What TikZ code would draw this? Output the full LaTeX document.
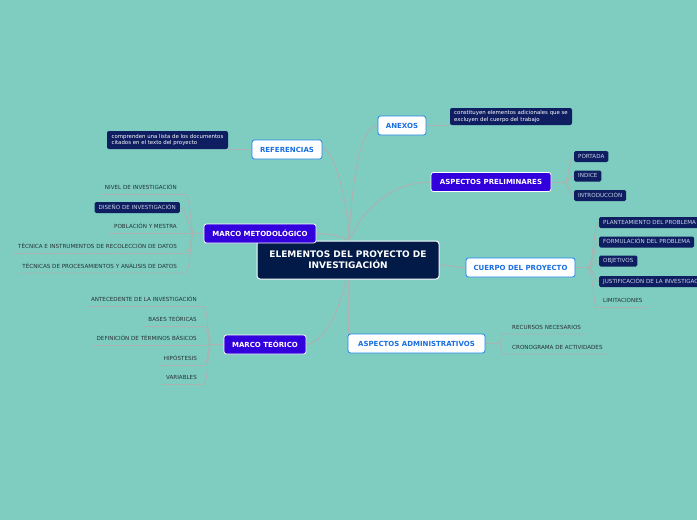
\documentclass[tikz,border=0pt]{standalone}
\usepackage{fontspec}
\setmainfont{DejaVu Sans}
\usetikzlibrary{calc}
\definecolor{bgc}{RGB}{126,205,192}
\definecolor{navyc}{RGB}{2,26,72}
\definecolor{leafc}{RGB}{14,30,96}
\definecolor{purc}{RGB}{50,0,220}
\definecolor{bluet}{RGB}{25,110,225}
\definecolor{blueb}{RGB}{30,130,235}
\definecolor{linec}{RGB}{172,178,178}
\definecolor{leaft}{RGB}{200,210,235}
\definecolor{plaint}{RGB}{40,50,55}
\pgfdeclarelayer{bg}
\pgfsetlayers{bg,main}
\begin{document}
\begin{tikzpicture}[x=1pt,y=-1pt,
  conn/.style={draw=linec,line width=1pt},
  uline/.style={draw=linec,line width=0.8pt},
  central/.style={fill=navyc,draw=white,line width=1pt,rounded corners=3pt,text=white,
    font=\bfseries\fontsize{9}{11}\selectfont,align=center,minimum width=182pt,minimum height=38pt,inner sep=0pt},
  wbox/.style={fill=white,draw=blueb,line width=0.8pt,rounded corners=2.5pt,text=bluet,
    font=\bfseries\fontsize{7}{8}\selectfont,minimum height=19pt,inner sep=0pt},
  pbox/.style={fill=purc,draw=white,line width=0.8pt,rounded corners=2.5pt,text=white,
    font=\bfseries\fontsize{7}{8}\selectfont,minimum height=19pt,inner sep=0pt},
  leaf/.style={fill=leafc,rounded corners=1.5pt,text=leaft,font=\fontsize{5.6}{6}\selectfont,
    text height=4pt,text depth=1pt,inner xsep=4pt,inner ysep=3pt},
  plain/.style={text=plaint,font=\fontsize{5.6}{6}\selectfont,text height=4pt,text depth=1pt,inner sep=0pt},
  note/.style={fill=leafc,rounded corners=2pt,text=white,font=\fontsize{5.4}{6.2}\selectfont,
    align=left,inner xsep=4pt,inner ysep=1pt}
]
\useasboundingbox (0,0) rectangle (697,520);
\begin{pgfonlayer}{bg}
\fill[bgc] (0,0) rectangle (697,520);
\end{pgfonlayer}

% central
\node[central] (c) at (348,260) {ELEMENTOS DEL PROYECTO DE\\INVESTIGACIÓN};

% anexos
\node[wbox,minimum width=48pt] (an) at (402,125.5) {ANEXOS};
\node[note,minimum width=122pt,minimum height=17pt] (ann) at (511,116.5)
  {constituyen elementos adicionales que se\\excluyen del cuerpo del trabajo};

% referencias
\node[wbox,minimum width=70pt] (re) at (287,149.5) {REFERENCIAS};
\node[note,minimum width=121pt,minimum height=18pt] (ren) at (167.5,140)
  {comprenden una lista de los documentos\\citados en el texto del proyecto};

% aspectos preliminares
\node[pbox,minimum width=120pt] (ap) at (491,182) {ASPECTOS PRELIMINARES};
\node[leaf,anchor=west] (p1) at (574,156.5) {PORTADA};
\node[leaf,anchor=west] (p2) at (574,176) {INDICE};
\node[leaf,anchor=west] (p3) at (574,195.5) {INTRODUCCIÓN};

% marco metodologico
\node[pbox,minimum width=112pt] (mm) at (260,233.5) {MARCO METODOLÓGICO};
\node[plain,anchor=east] (m1) at (177,188) {NIVEL DE INVESTIGACIÓN};
\node[leaf,anchor=east] (m2) at (180,207.5) {DISEÑO DE INVESTIGACIÓN};
\node[plain,anchor=east] (m3) at (177,227) {POBLACIÓN Y MESTRA};
\node[plain,anchor=east] (m4) at (177,247) {TÉCNICA E INSTRUMENTOS DE RECOLECCIÓN DE DATOS};
\node[plain,anchor=east] (m5) at (177,266.5) {TÉCNICAS DE PROCESAMIENTOS Y ANÁLISIS DE DATOS};

% cuerpo del proyecto
\node[wbox,minimum width=109pt] (cu) at (520.5,267.5) {CUERPO DEL PROYECTO};
\node[leaf,anchor=west] (c1) at (599,222.5) {PLANTEAMIENTO DEL PROBLEMA};
\node[leaf,anchor=west] (c2) at (599,242) {FORMULACIÓN DEL PROBLEMA};
\node[leaf,anchor=west] (c3) at (599,261) {OBJETIVOS};
\node[leaf,anchor=west] (c4) at (599,281.5) {JUSTIFICACIÓN DE LA INVESTIGACIÓN};
\node[plain,anchor=west] (c5) at (603,301) {LIMITACIONES};

% marco teorico
\node[pbox,minimum width=82pt] (mt) at (265,344.5) {MARCO TEÓRICO};
\node[plain,anchor=east] (t1) at (197,300) {ANTECEDENTE DE LA INVESTIGACIÓN};
\node[plain,anchor=east] (t2) at (197,320) {BASES TEÓRICAS};
\node[plain,anchor=east] (t3) at (197,339) {DEFINICIÓN DE TÉRMINOS BÁSICOS};
\node[plain,anchor=east] (t4) at (197,359) {HIPÓSTESIS};
\node[plain,anchor=east] (t5) at (197,378) {VARIABLES};

% aspectos administrativos
\node[wbox,minimum width=137pt] (ad) at (416.5,343.5) {ASPECTOS ADMINISTRATIVOS};
\node[plain,anchor=west] (d1) at (512,328) {RECURSOS NECESARIOS};
\node[plain,anchor=west] (d2) at (512,348) {CRONOGRAMA DE ACTIVIDADES};

% junctions
\coordinate (jm) at (194,233.5);
\coordinate (jt) at (211,344.5);
\coordinate (jp) at (564,182);
\coordinate (jc) at (588,267.5);
\coordinate (jd) at (499,343.5);
\coordinate (ctop) at ($(c.north)+(1,0)$);

\begin{pgfonlayer}{bg}
% main connectors
\draw[conn] (ctop) .. controls (352,180) and (360,126) .. (an.west);
\draw[conn] (ctop) .. controls (365,205) and (395,182) .. (ap.west);
\draw[conn] ($(re.east)+(0,-1.5)$) .. controls (334,150) and (348,200) .. (ctop);
\draw[conn] (mm.east) .. controls (330,234) and (342,236) .. (ctop);
\draw[conn] ($(c.east)+(0,5)$) .. controls (450,265) and (455,267.5) .. (cu.west);
\draw[conn] (mt.east) .. controls (328,342) and (342,300) .. ($(c.south)+(-2,0)$);
\draw[conn] (c.south) -- (c.south |- ad.north);
% notes
\draw[conn] (an.east) -- (an.east -| ann.west);
\draw[conn] (re.west) -- (re.west -| ren.east);
% marco metodologico children
\draw[conn] (jm) -- (mm.west);
\foreach \n in {m1,m3,m4,m5}{
  \draw[uline] ($(\n.west)+(-4,6.5)$) -- ($(\n.east)+(8,6.5)$)
    .. controls +(6,0) and +(-4,0) .. (jm);
}
\draw[conn] (m2.east) .. controls +(6,0) and +(-4,0) .. (jm);
% marco teorico children
\draw[conn] (jt) -- (mt.west);
\foreach \n in {t1,t2,t3,t4,t5}{
  \draw[uline] ($(\n.west)+(-4,6.5)$) -- ($(\n.east)+(6,6.5)$)
    .. controls +(6,0) and +(-4,0) .. (jt);
}
% aspectos preliminares children
\draw[conn] (ap.east) -- (jp);
\foreach \n in {p1,p2,p3}{
  \draw[conn] (jp) .. controls +(5,0) and +(-5,0) .. (\n.west);
}
% cuerpo children
\draw[conn] (cu.east) -- (jc);
\foreach \n in {c1,c2,c3,c4}{
  \draw[conn] (jc) .. controls +(5,0) and +(-5,0) .. (\n.west);
}
\draw[uline] (jc) .. controls +(5,0) and +(-4,0) .. ($(c5.west)+(-6,6.5)$) -- ($(c5.east)+(4,6.5)$);
% administrativos children
\draw[conn] (ad.east) -- (jd);
\foreach \n in {d1,d2}{
  \draw[uline] (jd) .. controls +(3,0) and +(-3,0) .. ($(\n.west)+(-9,6)$) -- ($(\n.east)+(5,6)$);
}
\end{pgfonlayer}
\end{tikzpicture}
\end{document}
